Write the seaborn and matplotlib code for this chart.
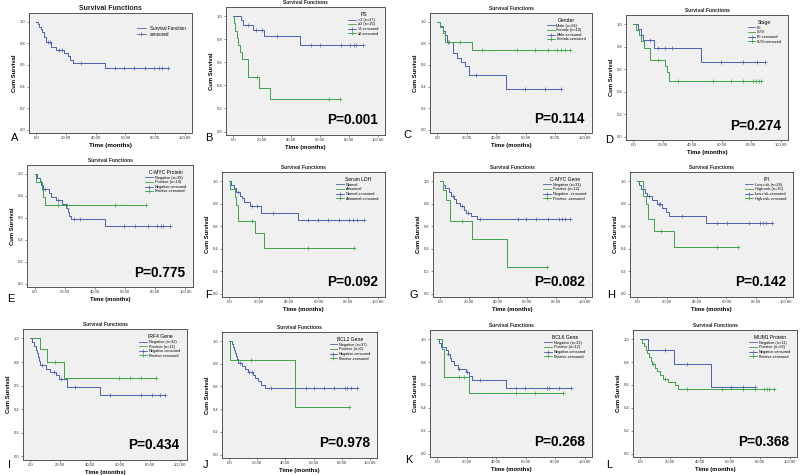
import numpy as np
import matplotlib
matplotlib.use("Agg")
import matplotlib.pyplot as plt
from matplotlib.lines import Line2D
import seaborn as sns

plt.rcParams["font.family"] = ["Liberation Sans", "DejaVu Sans"]

BLUE = "#4a5fb0"
GREEN = "#3aa346"

# ==============================
# DATA
# t = event times, s = survival after each event, c = censored times
# ==============================

a_t = [1.0, 2.0, 3.0, 4.0, 5.0, 6.5, 10.0, 13.5, 18.5, 21.5, 23.0, 25.0, 46.0]
a_s = [0.977, 0.953, 0.930, 0.907, 0.860, 0.814, 0.767, 0.740, 0.710, 0.686, 0.648, 0.621, 0.567]
a_c = [7.5, 9.0, 15.5, 17.0, 30.0, 53.0, 59.0, 66.0, 73.5, 79.5, 82.5, 85.0, 89.0]

b1_t = [5.3, 6.7, 14.0, 21.6, 46.0]
b1_s = [0.963, 0.926, 0.883, 0.830, 0.747]
b1_c = [10.0, 15.5, 20.0, 30.0, 53.5, 60.0, 74.5, 81.0, 83.5, 85.0, 89.5]
b2_t = [0.5, 1.5, 2.5, 3.5, 4.5, 6.3, 10.5, 18.0, 25.5]
b2_s = [0.938, 0.875, 0.813, 0.750, 0.688, 0.625, 0.469, 0.375, 0.281]
b2_c = [16.3, 66.0, 74.0]

c1_t = [2.0, 3.7, 5.3, 6.5, 10.5, 13.5, 16.0, 19.0, 21.5, 46.9]
c1_s = [0.958, 0.917, 0.875, 0.810, 0.708, 0.665, 0.630, 0.586, 0.503, 0.377]
c1_c = [7.5, 26.0, 59.5, 73.0, 84.0]
c2_t = [2.0, 3.5, 5.5, 23.8]
c2_s = [0.947, 0.895, 0.812, 0.735]
c2_c = [7.6, 15.7, 30.0, 54.0, 66.5, 75.0, 81.5, 84.0, 87.0, 90.0]

d1_t = [3.4, 5.0, 6.4, 14.2, 46.0]
d1_s = [0.952, 0.905, 0.855, 0.790, 0.660]
d1_c = [11.0, 17.0, 21.8, 26.4, 59.6, 74.5, 83.7, 89.4]
d2_t = [1.8, 4.0, 5.5, 6.9, 11.5, 21.8, 23.0, 24.5]
d2_s = [0.950, 0.900, 0.850, 0.787, 0.680, 0.625, 0.570, 0.495]
d2_c = [17.0, 30.5, 54.0, 66.5, 74.5, 81.4, 83.0, 85.0, 87.0]

e1_t = [1.6, 3.5, 4.5, 5.6, 9.8, 11.0, 14.0, 18.0, 21.0, 22.0, 22.7, 24.0, 46.6]
e1_s = [0.966, 0.931, 0.897, 0.862, 0.828, 0.793, 0.758, 0.722, 0.686, 0.650, 0.615, 0.590, 0.525]
e1_c = [7.0, 15.7, 26.0, 30.0, 59.0, 66.5, 75.0, 81.0, 83.6, 85.0, 89.5]
e2_t = [1.0, 4.7, 5.6, 6.6]
e2_s = [0.929, 0.857, 0.786, 0.714]
e2_c = [15.7, 21.5, 53.0, 74.0]

f1_t = [1.2, 3.0, 4.7, 7.0, 8.5, 10.0, 14.0, 21.0, 46.0]
f1_s = [0.968, 0.935, 0.903, 0.871, 0.845, 0.815, 0.780, 0.720, 0.657]
f1_c = [5.5, 15.0, 18.5, 29.5, 53.0, 59.5, 66.6, 74.0, 81.0, 83.5, 86.0, 90.5]
f2_t = [0.7, 3.5, 4.5, 5.9, 17.6, 23.5]
f2_s = [0.929, 0.857, 0.786, 0.643, 0.536, 0.402]
f2_c = [15.3, 53.0, 84.0]

g1_t = [1.9, 3.0, 5.8, 7.7, 9.3, 11.0, 14.0, 16.3, 18.0, 21.0, 25.6]
g1_s = [0.968, 0.935, 0.903, 0.871, 0.839, 0.806, 0.774, 0.742, 0.716, 0.690, 0.664]
g1_c = [8.5, 15.0, 19.5, 27.4, 53.5, 59.3, 66.0, 74.4, 82.5, 84.4, 86.0, 89.5]
g2_t = [1.6, 4.2, 6.5, 22.0, 46.5]
g2_s = [0.917, 0.833, 0.641, 0.481, 0.240]
g2_c = [15.0, 73.7]

h1_t = [1.0, 2.3, 5.0, 6.5, 9.8, 13.0, 16.3, 19.5, 21.4, 46.5]
h1_s = [0.964, 0.929, 0.893, 0.865, 0.830, 0.795, 0.760, 0.725, 0.690, 0.630]
h1_c = [7.5, 14.5, 15.5, 30.0, 54.0, 60.5, 75.0, 83.0, 84.6, 86.5, 90.7]
h2_t = [3.5, 5.7, 7.0, 11.0, 24.9]
h2_s = [0.867, 0.800, 0.667, 0.556, 0.417]
h2_c = [15.6, 54.0, 68.0]

i1_t = [1.2, 2.3, 3.5, 4.6, 5.2, 5.8, 6.5, 10.5, 12.8, 17.4, 19.0, 24.4, 46.5]
i1_s = [0.969, 0.938, 0.906, 0.875, 0.844, 0.813, 0.775, 0.745, 0.715, 0.690, 0.655, 0.592, 0.520]
i1_c = [8.0, 16.0, 20.5, 30.0, 53.5, 74.4, 81.4, 87.0, 90.0]
i2_t = [6.3, 11.0, 22.6]
i2_s = [0.909, 0.800, 0.667]
i2_c = [16.3, 59.3, 67.0, 74.0, 84.0]

j1_t = [1.8, 2.8, 3.5, 4.5, 5.2, 5.8, 6.5, 9.0, 11.5, 13.5, 17.0, 18.5, 20.5, 22.9, 25.2]
j1_s = [0.973, 0.946, 0.919, 0.892, 0.865, 0.838, 0.811, 0.784, 0.757, 0.730, 0.700, 0.672, 0.645, 0.617, 0.590]
j1_c = [7.7, 14.5, 16.0, 30.0, 54.4, 60.3, 67.3, 74.8, 82.5, 84.0, 86.4, 90.6]
j2_t = [0.7, 46.7]
j2_s = [0.833, 0.417]
j2_c = [15.9, 84.8]

k1_t = [0.8, 2.3, 5.8, 7.0, 8.3, 9.3, 11.5, 14.0, 19.3, 21.5, 23.2, 46.5]
k1_s = [0.968, 0.935, 0.903, 0.871, 0.839, 0.806, 0.774, 0.742, 0.710, 0.676, 0.640, 0.574]
k1_c = [7.5, 15.0, 20.0, 29.0, 53.5, 59.3, 74.4, 75.5, 82.5, 90.7]
k2_t = [3.0, 4.2, 21.6]
k2_s = [0.917, 0.667, 0.533]
k2_c = [15.0, 18.0, 53.5, 66.3, 85.0]

l1_t = [5.1, 22.7, 47.4]
l1_s = [0.909, 0.779, 0.584]
l1_c = [16.4, 31.0, 60.7, 68.5, 77.0]
l2_t = [1.2, 2.3, 3.5, 4.6, 5.8, 7.0, 7.8, 10.0, 11.2, 12.9, 15.2, 18.7, 23.4, 25.0]
l2_s = [0.969, 0.938, 0.906, 0.875, 0.844, 0.813, 0.781, 0.750, 0.719, 0.688, 0.656, 0.623, 0.595, 0.566]
l2_c = [8.5, 16.5, 31.0, 55.0, 68.5, 77.0, 83.0, 84.8, 86.4, 89.5]

letters = ["A", "B", "C", "D", "E", "F", "G", "H", "I", "J", "K", "L"]
p_values = [None, "P=0.001", "P=0.114", "P=0.274", "P=0.775", "P=0.092",
            "P=0.082", "P=0.142", "P=0.434", "P=0.978", "P=0.268", "P=0.368"]
legend_titles = [None, "PS", "Gender", "Stage", "C-MYC Protein", "Serum LDH",
                 "C-MYC Gene", "IPI", "IRF4 Gene", "BCL2 Gene", "BCL6 Gene", "MUM1 Protein"]
group_names = [
    None,
    ["<2 (n=27)", "\u22652 (n=16)", "<2-censored", "\u22652-censored"],
    ["Male (n=24)", "Female (n=19)", "Male-censored", "Female-censored"],
    ["I/II", "III/IV", "I/II-censored", "III/IV-censored"],
    ["Negative (n=29)", "Positive (n=14)", "Negative-censored", "Positive-censored"],
    ["Normal", "Abnormal", "Normal-censored", "Abnormal-censored"],
    ["Negative (n=31)", "Positive (n=12)", "Negative -censored", "Positive -censored"],
    ["Low-risk (n=28)", "High-risk (n=15)", "Low-risk-censored", "High-risk-censored"],
    ["Negative (n=32)", "Positive (n=11)", "Negative-censored", "Positive-censored"],
    ["Negative (n=37)", "Positive (n=6)", "Negative-censored", "Positive-censored"],
    ["Negative (n=31)", "Positive (n=12)", "Negative-censored", "Positive-censored"],
    ["Negative (n=11)", "Positive (n=32)", "Negative-censored", "Positive-censored"],
]

x_ticks = [0, 20, 40, 60, 80, 100]
x_ticklabels = [".00", "20.00", "40.00", "60.00", "80.00", "100.00"]
y_ticks = [0.0, 0.2, 0.4, 0.6, 0.8, 1.0]
y_ticklabels = ["0.0", "0.2", "0.4", "0.6", "0.8", "1.0"]

curves = [
    [(a_t, a_s, a_c)],
    [(b1_t, b1_s, b1_c), (b2_t, b2_s, b2_c)],
    [(c1_t, c1_s, c1_c), (c2_t, c2_s, c2_c)],
    [(d1_t, d1_s, d1_c), (d2_t, d2_s, d2_c)],
    [(e1_t, e1_s, e1_c), (e2_t, e2_s, e2_c)],
    [(f1_t, f1_s, f1_c), (f2_t, f2_s, f2_c)],
    [(g1_t, g1_s, g1_c), (g2_t, g2_s, g2_c)],
    [(h1_t, h1_s, h1_c), (h2_t, h2_s, h2_c)],
    [(i1_t, i1_s, i1_c), (i2_t, i2_s, i2_c)],
    [(j1_t, j1_s, j1_c), (j2_t, j2_s, j2_c)],
    [(k1_t, k1_s, k1_c), (k2_t, k2_s, k2_c)],
    [(l1_t, l1_s, l1_c), (l2_t, l2_s, l2_c)],
]

# panel boxes in pixels: left, top, right, bottom
boxes = [
    (29, 13, 192, 133), (226, 7, 385, 135), (430, 13, 592, 133), (626, 15, 788, 140),
    (27, 165, 193, 287), (222, 172, 385, 297), (433, 172, 592, 297), (630, 172, 793, 297),
    (23, 329, 187, 460), (222, 332, 377, 458), (430, 330, 592, 457), (633, 330, 797, 457),
]
letter_pos = [
    (11, 141), (205, 141), (403, 138), (605, 143),
    (7, 302), (205, 298), (410, 298), (607, 298),
    (8, 468), (203, 468), (405, 463), (606, 468),
]

W, H = 800, 475


def km_curve(ax, t, s, c, color):
    end = max(t + c)
    xs = [0.0] + t + [end]
    ys = [1.0] + s + [s[-1]]
    sns.lineplot(x=xs, y=ys, ax=ax, color=color, linewidth=0.7,
                 drawstyle="steps-post", estimator=None, sort=False)
    # censor marks sit on the step function
    idx = np.searchsorted(t, c, side="right")
    cy = [1.0 if i == 0 else s[i - 1] for i in idx]
    sns.scatterplot(x=c, y=cy, ax=ax, color=color, marker="+", s=11,
                    linewidth=0.5, zorder=3)


fig = plt.figure(figsize=(W / 100, H / 100), dpi=100)

for k in range(12):
    l, t, r, b = boxes[k]
    ax = fig.add_axes([l / W, 1 - b / H, (r - l) / W, (b - t) / H])
    ax.set_facecolor("#f0f0f0")

    colors = [BLUE, GREEN]
    for j, (tt, ss, cc) in enumerate(curves[k]):
        km_curve(ax, tt, ss, cc, colors[j])

    ax.set_xlim(-5, 105)
    ax.set_ylim(-0.03, 1.08)
    ax.set_xticks(x_ticks)
    ax.set_xticklabels(x_ticklabels)
    ax.set_yticks(y_ticks)
    ax.set_yticklabels(y_ticklabels)
    ax.tick_params(labelsize=3, length=1.5, width=0.4, pad=1, colors="#333333")
    for sp in ax.spines.values():
        sp.set_color("#555555")
        sp.set_linewidth(0.7)

    big = k == 0
    ax.set_title("Survival Functions", fontsize=5 if big else 3.6,
                 fontweight="bold", pad=2, color="#222222")
    ax.set_xlabel("Time (months)", fontsize=4.5 if big else 4.2,
                  fontweight="bold", labelpad=2)
    ax.set_ylabel("Cum Survival", fontsize=4.2, fontweight="bold", labelpad=2)

    if k == 0:
        handles = [Line2D([], [], color=BLUE, lw=0.6),
                   Line2D([], [], color=BLUE, lw=0.6, marker="+", ms=2.5, mew=0.5)]
        ax.legend(handles, ["Survival Function", "censored"], loc="upper right",
                  bbox_to_anchor=(0.98, 0.92), fontsize=3.3, frameon=False,
                  handlelength=2.0, labelspacing=0.2, borderpad=0.2)
    else:
        handles = [Line2D([], [], color=BLUE, lw=0.6),
                   Line2D([], [], color=GREEN, lw=0.6),
                   Line2D([], [], color=BLUE, lw=0.6, marker="+", ms=2.5, mew=0.5),
                   Line2D([], [], color=GREEN, lw=0.6, marker="+", ms=2.5, mew=0.5)]
        ax.legend(handles, group_names[k], title=legend_titles[k],
                  loc="upper right", bbox_to_anchor=(0.98, 0.98),
                  fontsize=2.8, title_fontsize=3.6, frameon=False,
                  handlelength=2.0, labelspacing=0.15, borderpad=0.2,
                  handletextpad=0.4)

    if p_values[k]:
        ax.text(0.955, 0.06, p_values[k], transform=ax.transAxes, ha="right",
                va="bottom", fontsize=9.8, fontweight="bold", color="black")

    lx, ly = letter_pos[k]
    fig.text(lx / W, 1 - ly / H, letters[k], fontsize=8, ha="left", va="baseline")

fig.savefig("out.png", dpi=100, facecolor="white")
